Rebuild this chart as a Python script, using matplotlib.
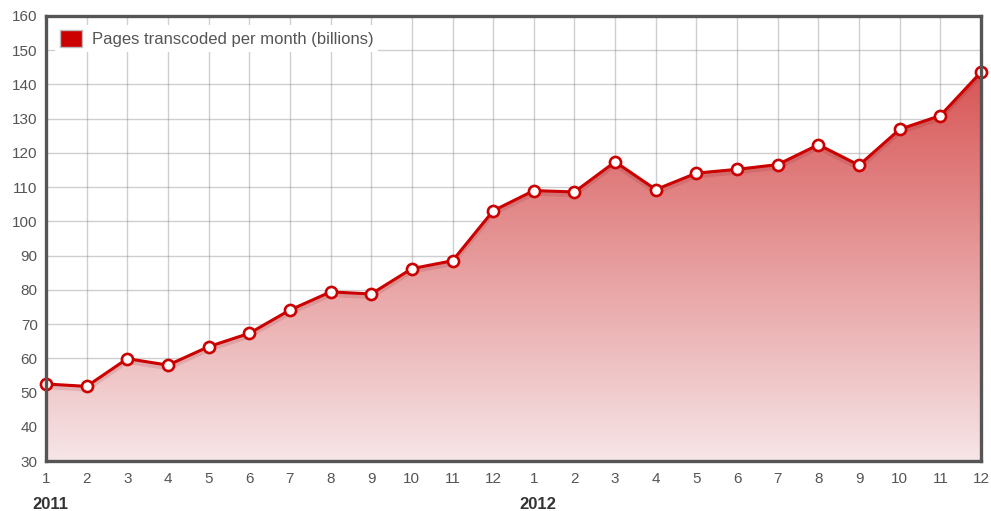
import matplotlib.pyplot as plt
import numpy as np
from matplotlib.colors import LinearSegmentedColormap
from matplotlib.patches import Patch

plt.rcParams['font.family'] = ['Liberation Sans', 'DejaVu Sans']

# dados (bilhoes de paginas por mes)
months = [1, 2, 3, 4, 5, 6, 7, 8, 9, 10, 11, 12,
          1, 2, 3, 4, 5, 6, 7, 8, 9, 10, 11, 12]
years = ["2011", "2012"]
pages = [52.5, 51.8, 59.9, 58.0, 63.4, 67.3, 74.1, 79.4, 78.8, 86.2, 88.5, 103.1,
         109.0, 108.6, 117.4, 109.3, 114.1, 115.2, 116.6, 122.4, 116.4, 126.9, 130.9, 143.6]
label = "Pages transcoded per month (billions)"

x = np.arange(1, len(pages) + 1)
y = np.array(pages)
ymin, ymax = 30, 160

fig = plt.figure(figsize=(9.91, 5.11), dpi=100)
ax = fig.add_axes([46 / 991, 50 / 511, 935 / 991, 445 / 511])
ax.set_xlim(1, len(pages))
ax.set_ylim(ymin, ymax)

# grade
ax.set_yticks(np.arange(ymin, ymax + 1, 10))
ax.set_xticks(x)
ax.grid(True, color="#777777", alpha=0.35, linewidth=1, zorder=3)

# area com gradiente
cmap = LinearSegmentedColormap.from_list(
    "grad", [(246 / 255, 229 / 255, 231 / 255), (216 / 255, 86 / 255, 86 / 255)])
fill = ax.fill_between(x, y, ymin, color="none", zorder=2)
grad = np.linspace(0, 1, 256).reshape(-1, 1)
img = ax.imshow(grad, cmap=cmap, aspect="auto", origin="lower",
                extent=[x[0], x[-1], ymin, y.max()], zorder=2)
img.set_clip_path(fill.get_paths()[0], transform=ax.transData)

# sombra leve e linha
ax.plot(x, y - 0.9, color="#800000", alpha=0.12, linewidth=3, zorder=4)
ax.plot(x, y, color="#cc0000", linewidth=2.2, marker="o", markersize=8,
        markerfacecolor="white", markeredgecolor="#cc0000", markeredgewidth=1.9,
        zorder=5, clip_on=False)

# eixos
for s in ax.spines.values():
    s.set_color("#555555")
    s.set_linewidth(2.4)
    s.set_zorder(6)
ax.tick_params(length=0, labelsize=11, labelcolor="#555555")
ax.tick_params(axis="y", pad=6)
ax.tick_params(axis="x", pad=8)
ax.set_xticklabels([str(m) for m in months])

# anos
ax.text(1.1, -0.097, years[0], transform=ax.get_xaxis_transform(), ha="center",
        va="center", fontsize=12, fontweight="bold", color="#333333")
ax.text(13.1, -0.097, years[1], transform=ax.get_xaxis_transform(), ha="center",
        va="center", fontsize=12, fontweight="bold", color="#333333")

# legenda
handle = Patch(facecolor="#cc0000", edgecolor="#bbbbbb", linewidth=1)
leg = ax.legend([handle], [label], loc="upper left", fontsize=12,
                frameon=True, fancybox=False, handlelength=1.3, handleheight=1.2,
                borderpad=0.3, handletextpad=0.6, borderaxespad=0.55)
leg.get_frame().set_edgecolor("white")
leg.get_frame().set_linewidth(0)
leg.get_frame().set_alpha(1)
for t in leg.get_texts():
    t.set_color("#555555")
leg.set_zorder(7)

fig.savefig("out.png", dpi=100)
